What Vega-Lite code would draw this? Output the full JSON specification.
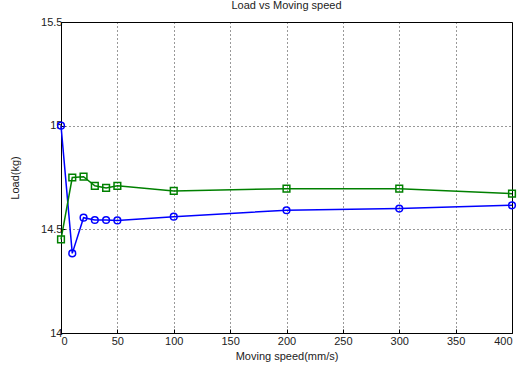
{
  "$schema": "https://vega.github.io/schema/vega-lite/v6.json",
  "autosize": {"type": "none"},
  "width": 451,
  "height": 311,
  "padding": {"left": 61, "top": 22, "right": 13, "bottom": 36},
  "background": "white",
  "title": {"text": "Load vs Moving speed", "fontSize": 11, "fontWeight": "normal", "font": "Liberation Sans", "color": "#222", "offset": 5},
  "config": {
    "view": {"stroke": "black", "strokeWidth": 1},
    "axis": {
      "labelFont": "Liberation Sans", "titleFont": "Liberation Sans",
      "labelFontSize": 11, "titleFontSize": 11, "titleFontWeight": "normal",
      "labelColor": "#222", "titleColor": "#222",
      "grid": true, "gridColor": "black", "gridDash": [1, 3], "gridOpacity": 0.8,
      "domainColor": "black", "tickColor": "black", "tickSize": -4
    }
  },
  "data": {
    "values": [
      {"speed": 0, "load": 15.0, "series": "A"},
      {"speed": 10, "load": 14.384, "series": "A"},
      {"speed": 20, "load": 14.556, "series": "A"},
      {"speed": 30, "load": 14.545, "series": "A"},
      {"speed": 40, "load": 14.545, "series": "A"},
      {"speed": 50, "load": 14.543, "series": "A"},
      {"speed": 100, "load": 14.561, "series": "A"},
      {"speed": 200, "load": 14.592, "series": "A"},
      {"speed": 300, "load": 14.6, "series": "A"},
      {"speed": 400, "load": 14.616, "series": "A"},
      {"speed": 0, "load": 14.452, "series": "B"},
      {"speed": 10, "load": 14.75, "series": "B"},
      {"speed": 20, "load": 14.754, "series": "B"},
      {"speed": 30, "load": 14.71, "series": "B"},
      {"speed": 40, "load": 14.70, "series": "B"},
      {"speed": 50, "load": 14.71, "series": "B"},
      {"speed": 100, "load": 14.685, "series": "B"},
      {"speed": 200, "load": 14.696, "series": "B"},
      {"speed": 300, "load": 14.696, "series": "B"},
      {"speed": 400, "load": 14.672, "series": "B"}
    ]
  },
  "encoding": {
    "x": {"field": "speed", "type": "quantitative", "scale": {"domain": [0, 400], "nice": false},
      "axis": {"title": "Moving speed(mm/s)", "values": [0, 50, 100, 150, 200, 250, 300, 350, 400], "labelPadding": 6, "titlePadding": 4}},
    "y": {"field": "load", "type": "quantitative", "scale": {"domain": [14, 15.5], "nice": false, "zero": false},
      "axis": {"title": "Load(kg)", "values": [14, 14.5, 15, 15.5], "format": "~g", "labelPadding": 3, "titlePadding": 20}},
    "color": {"field": "series", "type": "nominal", "scale": {"domain": ["A", "B"], "range": ["#0000ff", "#008000"]}, "legend": null},
    "shape": {"field": "series", "type": "nominal", "scale": {"domain": ["A", "B"], "range": ["circle", "square"]}, "legend": null}
  },
  "mark": {"type": "line", "strokeWidth": 1.5, "point": {"filled": false, "size": 45, "strokeWidth": 1.5}}
}
